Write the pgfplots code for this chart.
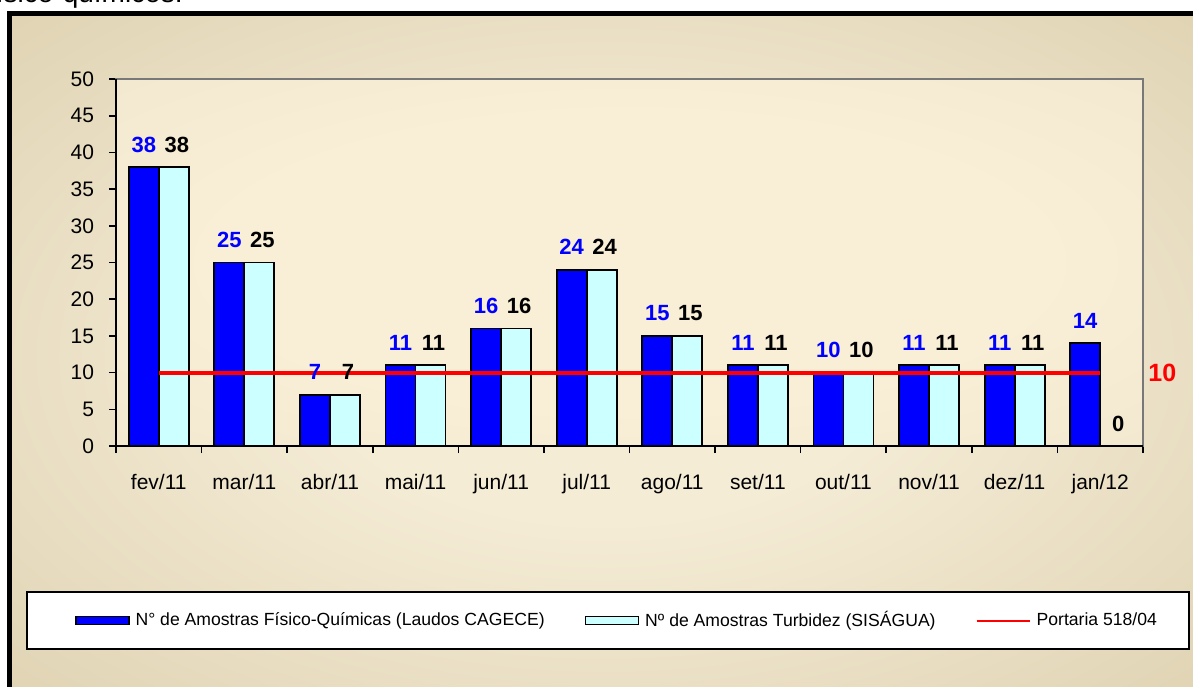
\documentclass[border=0pt]{standalone}
\usepackage{pgfplots}
\pgfplotsset{compat=1.18}
\usepackage{fontspec}
\setmainfont{Liberation Sans}
\definecolor{bgin}{RGB}{245,236,214}
\definecolor{bgout}{RGB}{210,196,158}
\definecolor{pin}{RGB}{249,239,215}
\definecolor{pout}{RGB}{237,227,201}
\definecolor{barcyan}{RGB}{204,255,255}
\definecolor{axgray}{RGB}{120,120,120}
\pgfdeclareradialshading{bgshade}{\pgfpoint{0bp}{0bp}}{color(0bp)=(bgin); color(12bp)=(bgin); color(50bp)=(bgout)}
\pgfdeclareradialshading{plotshade}{\pgfpoint{0bp}{0bp}}{color(0bp)=(pin); color(20bp)=(pin); color(50bp)=(pout)}
\begin{document}
\begin{tikzpicture}
\useasboundingbox (0,0) rectangle (596.5pt,-343pt);
\clip (0,0) rectangle (596.5pt,-343pt);
\begin{scope}[x=0.5pt,y=-0.5pt]
\fill[white] (0,0) rectangle (1193,686);
\node[anchor=base east, inner sep=0pt, font=\fontsize{14}{16}\selectfont] at (183,2) {físico-químicos.};
\shade[shading=bgshade] (9.5,13) rectangle (1200,700);
\shade[shading=plotshade] (116,79) rectangle (1143,446);
\fill[white] (27,592) rectangle (1189,649);
\draw[black, line width=1.1pt] (27,592) rectangle (1189,649);
\draw[black, line width=2.5pt] (9.5,13) rectangle (1260,760);
\end{scope}
\begin{axis}[
  at={(58pt,-223pt)}, anchor=south west,
  scale only axis, width=513.5pt, height=183.5pt,
  xmin=-0.5, xmax=11.5, ymin=0, ymax=50,
  xtick={-0.5,0.5,...,11.5},
  x tick label as interval,
  xticklabels={fev/11,mar/11,abr/11,mai/11,jun/11,jul/11,ago/11,set/11,out/11,nov/11,dez/11,jan/12},
  ytick={0,5,...,50},
  axis line style={axgray, line width=0.6pt},
  tick align=outside, tick pos=left,
  major tick length=3.5pt,
  tick style={black, line width=0.8pt},
  tick label style={font=\fontsize{10.5}{12}\selectfont},
  /pgf/number format/assume math mode=true,
  yticklabel style={xshift=-4pt},
  xticklabel style={yshift=-7pt},
  clip=false,
  legend columns=3,
  legend cell align=left,
  legend style={at={(-0.0399,-0.4755)}, anchor=west, draw=none, fill=none,
    inner sep=0pt, outer sep=0pt,
    nodes={inner sep=0pt, font=\fontsize{8.8}{10.5}\selectfont},
    /tikz/every odd column/.append style={column sep=3pt},
    /tikz/every even column/.append style={column sep=20pt}},
]
\addplot[ybar, bar width=15pt, bar shift=-7.5pt, fill=blue, draw=black, line width=0.9pt,
  legend image code/.code={\draw[fill=blue, draw=black, line width=0.8pt] (0pt,-2pt) rectangle (26.5pt,2pt);},
  nodes near coords,
  nodes near coords style={anchor=base, yshift=7.5pt, xshift=-7.5pt, text=blue, font=\bfseries\fontsize{11}{13}\selectfont}]
  coordinates {(0,38) (1,25) (2,7) (3,11) (4,16) (5,24) (6,15) (7,11) (8,10) (9,11) (10,11) (11,14)};
\addlegendentry{N° de Amostras Físico-Químicas (Laudos CAGECE)}
\addplot[ybar, bar width=15pt, bar shift=7.5pt, fill=barcyan, draw=black, line width=0.9pt,
  legend image code/.code={\draw[fill=barcyan, draw=black, line width=0.8pt] (0pt,-2pt) rectangle (26.5pt,2pt);},
  nodes near coords,
  nodes near coords style={anchor=base, yshift=7.5pt, xshift=9pt, text=black, font=\bfseries\fontsize{11}{13}\selectfont}]
  coordinates {(0,38) (1,25) (2,7) (3,11) (4,16) (5,24) (6,15) (7,11) (8,10) (9,11) (10,11) (11,0)};
\addlegendentry{Nº de Amostras Turbidez (SISÁGUA)}
\addplot[red, line width=2pt, no marks,
  legend image code/.code={\draw[red, line width=1pt] (0pt,0pt) -- (26.5pt,0pt);}]
  coordinates {(0,10) (1,10) (2,10) (3,10) (4,10) (5,10) (6,10) (7,10) (8,10) (9,10) (10,10) (11,10)};
\addlegendentry{Portaria 518/04}
\draw[black, line width=1.2pt] (rel axis cs:0,1) -- (rel axis cs:0,0) -- (rel axis cs:1,0);
\node[anchor=west, inner sep=0pt, text=red, font=\bfseries\fontsize{12.5}{14}\selectfont, xshift=2.5pt] at (axis cs:11.5,10) {10};
\end{axis}
\end{tikzpicture}
\end{document}
